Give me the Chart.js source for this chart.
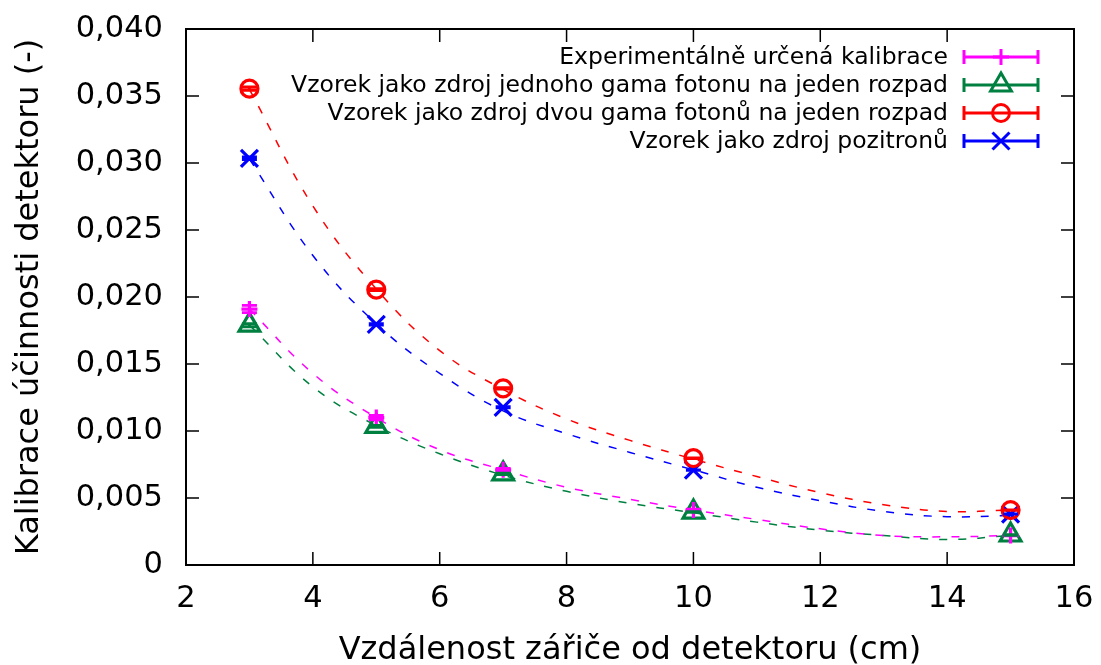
<!DOCTYPE html>
<html>
<head>
<meta charset="utf-8">
<script src="https://cdn.jsdelivr.net/npm/chart.js@4/dist/chart.umd.min.js"></script>
<style>
  body { margin: 0; background: #fff; }
  #wrap { width: 1101px; height: 665px; }
</style>
</head>
<body>
<div id="wrap"><canvas id="chart" width="1101" height="665"></canvas></div>
<script>
// measured points (distance in cm)
const distances = [3, 5, 7, 10, 15];
const expValues = [0.0191, 0.0110, 0.0071, 0.0041, 0.0022];
const expErrors = [0.00027, 0.00016, 0.0001, 0.00006, 0.00003];
const oneGammaValues = [0.0179, 0.01035, 0.0068, 0.00395, 0.00224];
const oneGammaErrors = [0.00012, 0.00007, 0.00005, 0.00003, 0.00002];
const twoGammaValues = [0.03555, 0.02055, 0.01318, 0.00797, 0.0041];
const twoGammaErrors = [0.00012, 0.00008, 0.00005, 0.00003, 0.00002];
const positronValues = [0.03035, 0.01796, 0.01177, 0.00708, 0.0038];
const positronErrors = [0.0001, 0.00006, 0.00004, 0.00002, 0.00001];

// fitted curves
const fitX = [3, 4, 5, 6, 7, 8, 9, 10, 11, 12, 13, 14, 15];
const expFit = [0.0191, 0.0143, 0.0110, 0.0086, 0.0071, 0.0058, 0.0049, 0.0041, 0.0034, 0.0027, 0.0022, 0.0021, 0.0022];
const oneGammaFit = [0.0179, 0.0133, 0.0104, 0.0083, 0.0067, 0.0055, 0.0046, 0.0039, 0.0032, 0.0026, 0.0022, 0.0019, 0.0022];
const twoGammaFit = [0.0355, 0.0268, 0.0206, 0.0160, 0.0131, 0.0109, 0.0093, 0.0079, 0.0066, 0.0054, 0.0045, 0.0040, 0.0041];
const positronFit = [0.0303, 0.0231, 0.0180, 0.0143, 0.0115, 0.0098, 0.0084, 0.0071, 0.0058, 0.0048, 0.0040, 0.0036, 0.0037];

const seriesLabels = [
  "Experimentálně určená kalibrace",
  "Vzorek jako zdroj jednoho gama fotonu na jeden rozpad",
  "Vzorek jako zdroj dvou gama fotonů na jeden rozpad",
  "Vzorek jako zdroj pozitronů"
];
const colors = ["#ff00ff", "#008040", "#ff0000", "#0000ff"];
const styles = ["cross", "triangle", "circle", "crossRot"];
const radii = [8, 12, 8.5, 12];

const values = [expValues, oneGammaValues, twoGammaValues, positronValues];
const errors = [expErrors, oneGammaErrors, twoGammaErrors, positronErrors];
const fits = [expFit, oneGammaFit, twoGammaFit, positronFit];

const FONT = "'DejaVu Sans', sans-serif";

function toPoints(xs, ys) {
  return xs.map(function (x, i) { return { x: x, y: ys[i] }; });
}

const datasets = [];
for (let i = 0; i < 4; i++) {
  datasets.push({
    label: seriesLabels[i] + " fit",
    data: toPoints(fitX, fits[i]),
    showLine: true,
    borderColor: colors[i],
    borderWidth: 1.5,
    borderDash: [8, 11],
    tension: 0.4,
    pointRadius: 0,
    order: 2
  });
}
for (let i = 0; i < 4; i++) {
  datasets.push({
    label: seriesLabels[i],
    data: toPoints(distances, values[i]),
    showLine: false,
    pointStyle: styles[i],
    pointRadius: radii[i],
    pointBorderWidth: 3.2,
    pointBorderColor: colors[i],
    pointBackgroundColor: "rgba(0,0,0,0)",
    errors: errors[i],
    order: 1
  });
}

// vertical error bars with caps
const errorBars = {
  id: "errorBars",
  afterDatasetsDraw(chart) {
    const ctx = chart.ctx;
    const xs = chart.scales.x, ys = chart.scales.y;
    chart.data.datasets.forEach(function (ds) {
      if (!ds.errors) return;
      ctx.save();
      ctx.strokeStyle = ds.pointBorderColor;
      ctx.lineWidth = 2.8;
      ds.data.forEach(function (p, i) {
        const px = xs.getPixelForValue(p.x);
        const top = ys.getPixelForValue(p.y + ds.errors[i]);
        const bot = ys.getPixelForValue(p.y - ds.errors[i]);
        ctx.beginPath();
        ctx.moveTo(px, top); ctx.lineTo(px, bot);
        ctx.moveTo(px - 7.5, top); ctx.lineTo(px + 7.5, top);
        ctx.moveTo(px - 7.5, bot); ctx.lineTo(px + 7.5, bot);
        ctx.stroke();
      });
      ctx.restore();
    });
  }
};

// border with inward ticks on all four sides
const frame = {
  id: "frame",
  afterDraw(chart) {
    const ctx = chart.ctx, a = chart.chartArea;
    const xs = chart.scales.x, ys = chart.scales.y;
    ctx.save();
    ctx.strokeStyle = "#000";
    ctx.lineWidth = 1.5;
    ctx.beginPath();
    xs.ticks.forEach(function (t) {
      const px = xs.getPixelForValue(t.value);
      ctx.moveTo(px, a.bottom); ctx.lineTo(px, a.bottom - 13);
      ctx.moveTo(px, a.top); ctx.lineTo(px, a.top + 13);
    });
    ys.ticks.forEach(function (t) {
      const py = ys.getPixelForValue(t.value);
      ctx.moveTo(a.left, py); ctx.lineTo(a.left + 13, py);
      ctx.moveTo(a.right, py); ctx.lineTo(a.right - 13, py);
    });
    ctx.stroke();
    ctx.lineWidth = 2;
    ctx.strokeRect(a.left, a.top, a.right - a.left, a.bottom - a.top);
    ctx.restore();
  }
};

function drawMarker(ctx, style, x, y, r) {
  ctx.beginPath();
  if (style === "cross") {
    ctx.moveTo(x, y - r); ctx.lineTo(x, y + r);
    ctx.moveTo(x - r, y); ctx.lineTo(x + r, y);
  } else if (style === "triangle") {
    ctx.moveTo(x, y - r);
    ctx.lineTo(x + r * 0.866, y + r * 0.5);
    ctx.lineTo(x - r * 0.866, y + r * 0.5);
    ctx.closePath();
  } else if (style === "circle") {
    ctx.arc(x, y, r, 0, Math.PI * 2);
  } else {
    const o = r * 0.707;
    ctx.moveTo(x - o, y - o); ctx.lineTo(x + o, y + o);
    ctx.moveTo(x - o, y + o); ctx.lineTo(x + o, y - o);
  }
  ctx.stroke();
}

// gnuplot-like key in the top right corner
const key = {
  id: "key",
  afterDraw(chart) {
    const ctx = chart.ctx;
    ctx.save();
    ctx.font = "23.5px " + FONT;
    ctx.textAlign = "right";
    ctx.textBaseline = "middle";
    for (let i = 0; i < 4; i++) {
      const y = 57 + i * 28;
      ctx.fillStyle = "#000";
      ctx.fillText(seriesLabels[i], 948, y + 1);
      ctx.strokeStyle = colors[i];
      ctx.lineWidth = 3;
      ctx.beginPath();
      ctx.moveTo(964, y); ctx.lineTo(1038, y);
      ctx.moveTo(964, y - 7); ctx.lineTo(964, y + 7);
      ctx.moveTo(1038, y - 7); ctx.lineTo(1038, y + 7);
      ctx.stroke();
      drawMarker(ctx, styles[i], 1001, y, radii[i]);
    }
    ctx.restore();
  }
};

function yLabel(v) {
  if (Math.abs(v) < 1e-9) return "0";
  return v.toFixed(3).replace(".", ",");
}

new Chart(document.getElementById("chart").getContext("2d"), {
  type: "scatter",
  data: { datasets: datasets },
  options: {
    responsive: false,
    animation: false,
    layout: { padding: { top: 29, right: 27, left: 0, bottom: 0 } },
    plugins: {
      legend: { display: false },
      tooltip: { enabled: false }
    },
    scales: {
      x: {
        type: "linear",
        min: 2,
        max: 16,
        grid: { display: false, drawTicks: false },
        border: { display: false },
        ticks: { stepSize: 2, color: "#000", padding: 16, font: { family: FONT, size: 30.5 }, autoSkip: false, maxRotation: 0 },
        title: { display: true, text: "Vzdálenost zářiče od detektoru (cm)", color: "#000", font: { family: FONT, size: 32, lineHeight: 0.9 }, padding: 0 },
        afterFit: function (s) { s.height = 100; s.paddingLeft = 0; s.paddingRight = 0; }
      },
      y: {
        type: "linear",
        min: 0,
        max: 0.04,
        grid: { display: false, drawTicks: false },
        border: { display: false },
        ticks: { stepSize: 0.005, color: "#000", padding: 23, font: { family: FONT, size: 30.5 }, autoSkip: false, callback: yLabel },
        title: { display: true, text: "Kalibrace účinnosti detektoru (-)", color: "#000", font: { family: FONT, size: 32, lineHeight: 1 }, padding: { top: 14, bottom: 0 } },
        afterFit: function (s) { s.width = 186; s.paddingTop = 0; s.paddingBottom = 0; }
      }
    }
  },
  plugins: [errorBars, frame, key]
});
</script>
</body>
</html>
